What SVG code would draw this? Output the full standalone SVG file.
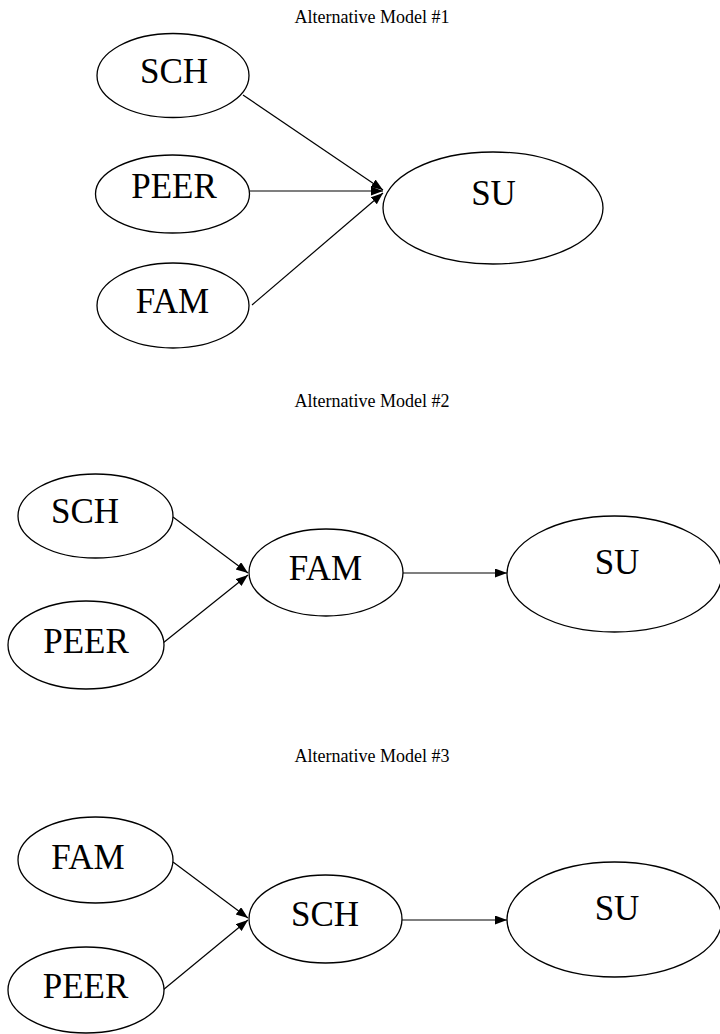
<svg xmlns="http://www.w3.org/2000/svg" width="720" height="1034" viewBox="0 0 720 1034">
<style>
.bg{fill:#fff}
.node ellipse{fill:#fff;stroke:#000;stroke-width:1.3}
.node text{font-family:"Liberation Serif","Times New Roman",serif;font-size:35px;fill:#000;text-anchor:middle}
.title{font-family:"Liberation Serif","Times New Roman",serif;font-size:18px;fill:#000;text-anchor:middle}
.edge{stroke:#000;stroke-width:1.2;fill:none;marker-end:url(#arr)}
</style>
<defs>
<marker id="arr" markerUnits="userSpaceOnUse" markerWidth="13" markerHeight="10" refX="12" refY="4.5" orient="auto">
<path d="M0,0 L12,4.5 L0,9 z" fill="#000"/>
</marker>
</defs>
<rect class="bg" x="0" y="0" width="720" height="1034"/>
<text class="title" x="372" y="23">Alternative Model #1</text>
<text class="title" x="372" y="407">Alternative Model #2</text>
<text class="title" x="372" y="762">Alternative Model #3</text>
<g id="connectors">
<line class="edge" x1="243" y1="95" x2="383" y2="190"/>
<line class="edge" x1="250" y1="191" x2="383" y2="191"/>
<line class="edge" x1="252" y1="305" x2="383" y2="193"/>
<line class="edge" x1="173" y1="517" x2="248" y2="573"/>
<line class="edge" x1="163" y1="643" x2="248" y2="575"/>
<line class="edge" x1="403" y1="573" x2="507" y2="573"/>
<line class="edge" x1="173" y1="862" x2="248" y2="918"/>
<line class="edge" x1="163" y1="990" x2="248" y2="920"/>
<line class="edge" x1="402" y1="920" x2="507" y2="920"/>
</g>
<g id="m1-sch" class="node"><ellipse cx="173" cy="75.5" rx="76" ry="42"/><text x="174" y="83">SCH</text></g>
<g id="m1-peer" class="node"><ellipse cx="172.5" cy="194" rx="77" ry="39"/><text x="174" y="198">PEER</text></g>
<g id="m1-fam" class="node"><ellipse cx="173" cy="305.5" rx="76" ry="42.5"/><text x="172.5" y="313">FAM</text></g>
<g id="m1-su" class="node"><ellipse cx="493" cy="208" rx="110" ry="56"/><text x="493.5" y="205">SU</text></g>
<g id="m2-sch" class="node"><ellipse cx="95.5" cy="516" rx="77.5" ry="42"/><text x="85" y="523">SCH</text></g>
<g id="m2-peer" class="node"><ellipse cx="86" cy="645" rx="78" ry="44"/><text x="86" y="653">PEER</text></g>
<g id="m2-fam" class="node"><ellipse cx="326" cy="572.5" rx="77" ry="43.5"/><text x="325.5" y="580">FAM</text></g>
<g id="m2-su" class="node"><ellipse cx="614.5" cy="574" rx="107.5" ry="58"/><text x="617" y="574">SU</text></g>
<g id="m3-fam" class="node"><ellipse cx="95.5" cy="860" rx="77.5" ry="43"/><text x="88" y="869">FAM</text></g>
<g id="m3-peer" class="node"><ellipse cx="86" cy="990" rx="78" ry="43"/><text x="85.5" y="998">PEER</text></g>
<g id="m3-sch" class="node"><ellipse cx="325.5" cy="919" rx="76.5" ry="44"/><text x="325" y="926">SCH</text></g>
<g id="m3-su" class="node"><ellipse cx="614.5" cy="919.5" rx="107.5" ry="57.5"/><text x="617" y="920">SU</text></g>
</svg>
